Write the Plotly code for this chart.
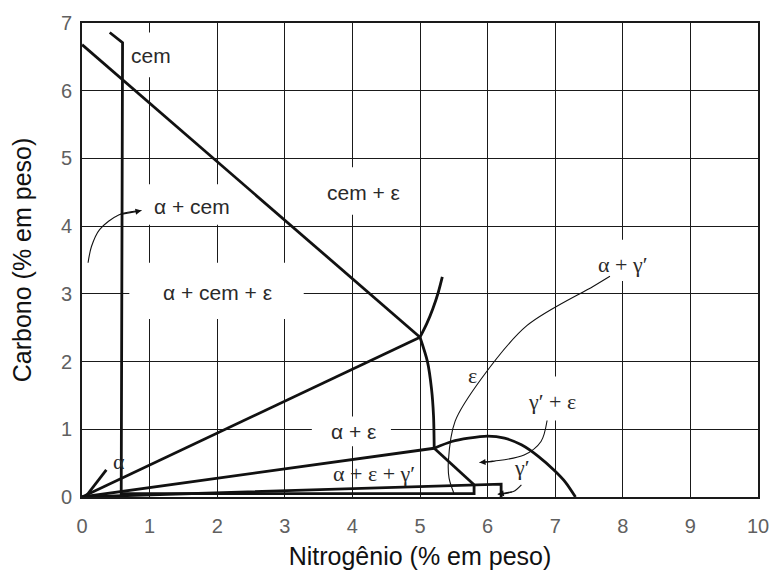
import plotly.graph_objects as go

# ---------------- data (nitrogen wt% , carbon wt%) ----------------
x_tick_vals = [0, 1, 2, 3, 4, 5, 6, 7, 8, 9, 10]
y_tick_vals = [0, 1, 2, 3, 4, 5, 6, 7]

# thick phase boundaries
cem_line_n = [0.0, 5.0]
cem_line_c = [6.68, 2.36]

cem_vert_n = [0.41, 0.60, 0.58, 5.80, 5.80]
cem_vert_c = [6.86, 6.71, 0.05, 0.05, 0.18]

tie_a_n = [0.0, 5.0]
tie_a_c = [0.0, 2.36]

tie_b_n = [0.0, 5.21]
tie_b_c = [0.0, 0.72]

tie_c_n = [0.0, 6.2, 6.2]
tie_c_c = [0.0, 0.19, 0.0]

alpha_n = [0.05, 0.36]
alpha_c = [0.0, 0.40]

eps_upper_n = [5.0, 5.10, 5.19, 5.27, 5.33]
eps_upper_c = [2.36, 2.56, 2.78, 3.02, 3.25]

eps_lower_n = [5.0, 5.11, 5.17, 5.20, 5.21]
eps_lower_c = [2.36, 2.00, 1.60, 1.20, 0.72]

diag_n = [5.21, 5.80]
diag_c = [0.72, 0.18]

dome_n = [5.21, 5.47, 5.72, 6.0, 6.25, 6.5, 6.75, 7.0, 7.15, 7.3]
dome_c = [0.72, 0.82, 0.87, 0.90, 0.87, 0.77, 0.60, 0.38, 0.22, 0.0]

# thin leader lines
lead_ag_n = [7.81, 7.56, 6.58, 5.91, 5.52, 5.42, 5.43, 5.50]
lead_ag_c = [3.26, 3.11, 2.53, 1.75, 1.12, 0.53, 0.28, 0.06]

lead_acem_n = [0.09, 0.14, 0.26, 0.55, 0.88]
lead_acem_c = [3.46, 3.70, 3.95, 4.17, 4.23]

lead_ge_n = [6.88, 6.79, 6.54, 6.10, 5.88]
lead_ge_c = [1.13, 0.82, 0.62, 0.53, 0.51]

lead_g_n = [6.50, 6.38, 6.15]
lead_g_c = [0.18, 0.08, 0.04]

# region labels
label_texts = ["cem", "cem + ε", "α + cem", "α + cem + ε", "α + ε",
               "α + ε + γ′", "γ′ + ε", "α + γ′", "γ′", "ε", "α"]
label_n = [1.02, 4.16, 1.62, 2.01, 4.02, 4.32, 6.95, 7.99, 6.51, 5.77, 0.55]
label_c = [6.52, 4.49, 4.29, 3.02, 0.97, 0.35, 1.41, 3.44, 0.43, 1.79, 0.52]
label_serif = [False, False, False, False, False, True, True, True, True, True, True]

# white gaps in the grid behind labels (x0, x1, y0, y1)
gap_boxes = [
    (0.75, 1.35, 6.20, 6.86),
    (3.50, 4.80, 4.17, 4.87),
    (0.95, 2.50, 4.02, 4.62),
    (0.70, 3.28, 2.63, 3.46),
    (3.40, 4.57, 0.75, 1.19),
    (6.60, 7.30, 1.13, 1.78),
    (7.60, 8.40, 3.19, 3.80),
]

fig = go.Figure()

THICK = 2.8
THIN = 1.1

for xs, ys in [(cem_line_n, cem_line_c), (cem_vert_n, cem_vert_c),
               (tie_a_n, tie_a_c), (tie_b_n, tie_b_c), (tie_c_n, tie_c_c),
               (alpha_n, alpha_c), (eps_upper_n, eps_upper_c),
               (eps_lower_n, eps_lower_c), (diag_n, diag_c), (dome_n, dome_c)]:
    smooth = len(xs) > 3 and xs is not cem_vert_n
    fig.add_trace(go.Scatter(x=xs, y=ys, mode="lines",
                             line=dict(color="#111", width=THICK,
                                       shape="spline" if smooth else "linear",
                                       smoothing=0.8),
                             hoverinfo="skip", showlegend=False))

for xs, ys in [(lead_ag_n, lead_ag_c), (lead_acem_n, lead_acem_c),
               (lead_ge_n, lead_ge_c), (lead_g_n, lead_g_c)]:
    fig.add_trace(go.Scatter(x=xs, y=ys, mode="lines",
                             line=dict(color="#111", width=THIN, shape="spline",
                                       smoothing=0.9),
                             hoverinfo="skip", showlegend=False))

# arrowheads at the leader ends
for xs, ys in [(lead_acem_n, lead_acem_c), (lead_ge_n, lead_ge_c), (lead_g_n, lead_g_c)]:
    fig.add_annotation(x=xs[-1], y=ys[-1], ax=xs[-2], ay=ys[-2],
                       xref="x", yref="y", axref="x", ayref="y",
                       text="", showarrow=True, arrowhead=2, arrowsize=1.1,
                       arrowwidth=THIN, arrowcolor="#111", standoff=0)

for (x0, x1, y0, y1) in gap_boxes:
    fig.add_shape(type="rect", x0=x0, x1=x1, y0=y0, y1=y1, xref="x", yref="y",
                  fillcolor="white", line=dict(width=0), layer="between")

for t, xv, yv, serif in zip(label_texts, label_n, label_c, label_serif):
    fig.add_annotation(x=xv, y=yv, xref="x", yref="y", text=t, showarrow=False,
                       font=dict(family="Liberation Serif" if serif else "Liberation Sans",
                                 size=22 if serif else 21, color="#2a2a2a"))

axis_common = dict(showgrid=True, gridcolor="#1a1a1a", gridwidth=1.3,
                   showline=True, linecolor="#1a1a1a", linewidth=1.6, mirror=True,
                   zeroline=False, ticks="",
                   tickfont=dict(family="Liberation Sans", size=20, color="#606060"))

fig.update_xaxes(range=[0, 10], tickvals=x_tick_vals, ticklabelstandoff=10,
                 title=dict(text="Nitrogênio (% em peso)", standoff=12,
                            font=dict(family="Liberation Sans", size=25, color="#111")),
                 **axis_common)
fig.update_yaxes(range=[0, 7], tickvals=y_tick_vals, ticklabelstandoff=4,
                 title=dict(text="Carbono (% em peso)", standoff=22,
                            font=dict(family="Liberation Sans", size=25, color="#111")),
                 **axis_common)

fig.update_layout(width=781, height=578, margin=dict(l=82, r=14, t=22, b=79),
                  plot_bgcolor="white", paper_bgcolor="white")

fig.write_html("out.html")
